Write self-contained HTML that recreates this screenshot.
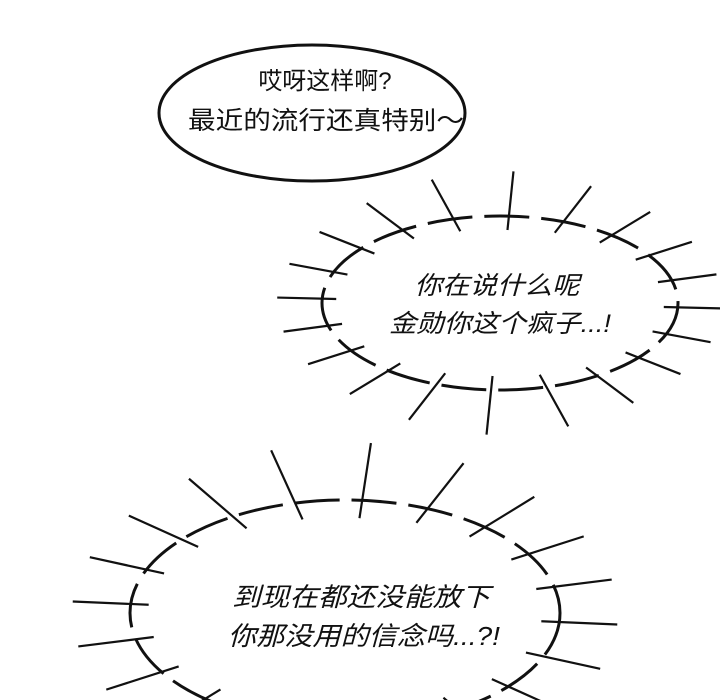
<!DOCTYPE html>
<html><head><meta charset="utf-8"><style>
html,body{margin:0;padding:0;background:#fff;width:720px;height:700px;overflow:hidden}
svg{display:block;overflow:hidden}
text{font-family:"Liberation Sans","Noto Sans CJK SC",sans-serif;fill:#111}
</style></head><body>
<svg id="s" width="720" height="700" viewBox="0 0 720 700">
<ellipse cx="312" cy="113" rx="153" ry="68" fill="#fff" stroke="#111" stroke-width="3"/>
<text x="325" y="89" font-size="24" text-anchor="middle">哎呀这样啊?</text>
<text x="326" y="129" font-size="25" text-anchor="middle" textLength="276" lengthAdjust="spacingAndGlyphs">最近的流行还真特别～</text>
<g id="b2"></g>
<g id="b3"></g>
<text x="497" y="294" font-size="25" text-anchor="middle" font-style="italic" textLength="165" lengthAdjust="spacingAndGlyphs">你在说什么呢</text>
<text x="500" y="332" font-size="25" text-anchor="middle" font-style="italic" textLength="222" lengthAdjust="spacingAndGlyphs">金勋你这个疯子...!</text>
<text x="361" y="606" font-size="26" text-anchor="middle" font-style="italic" textLength="258" lengthAdjust="spacingAndGlyphs">到现在都还没能放下</text>
<text x="364" y="645" font-size="26" text-anchor="middle" font-style="italic" textLength="272" lengthAdjust="spacingAndGlyphs">你那没用的信念吗...?!</text>
</svg>
<script>
function burst(id,cx,cy,rx,ry,n,outL,inL,off){
  var g=document.getElementById(id),ns="http://www.w3.org/2000/svg";
  var e=document.createElementNS(ns,"ellipse");
  e.setAttribute("cx",cx);e.setAttribute("cy",cy);e.setAttribute("rx",rx);e.setAttribute("ry",ry);
  e.setAttribute("fill","none");e.setAttribute("stroke","#111");e.setAttribute("stroke-width","3");
  e.setAttribute("stroke-dasharray","45 12");
  g.appendChild(e);
  for(var i=0;i<n;i++){
    var t=off+i*2*Math.PI/n;
    var px=cx+rx*Math.cos(t),py=cy+ry*Math.sin(t);
    var dx=rx*Math.cos(t),dy=ry*Math.sin(t),l=Math.hypot(dx,dy);dx/=l;dy/=l;
    var L=document.createElementNS(ns,"line");
    L.setAttribute("x1",px-dx*inL);L.setAttribute("y1",py-dy*inL);
    L.setAttribute("x2",px+dx*outL);L.setAttribute("y2",py+dy*outL);
    L.setAttribute("stroke","#111");L.setAttribute("stroke-width","2.2");
    g.appendChild(L);
  }
}
burst("b2",500,303,178,87,20,45,14,0.05);
burst("b3",345,613,215,113,20,58,18,0.08);
</script>
</body></html>
